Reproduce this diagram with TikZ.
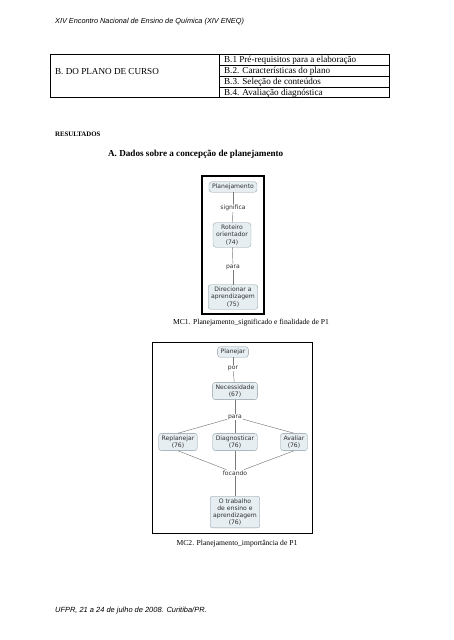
\documentclass[tikz,border=0pt]{standalone}
\usepackage{fontspec}
\setmainfont{Liberation Serif}
\newfontfamily\arialfont{Liberation Sans}
\newfontfamily\cmapfont{DejaVu Sans}
\usetikzlibrary{positioning}
\definecolor{cfill}{HTML}{E6EEF2}
\definecolor{cdraw}{HTML}{8A98A2}
\definecolor{ctext}{HTML}{303030}
\definecolor{clink}{HTML}{7A7A7A}
\tikzstyle{cnode} = [rectangle, rounded corners=3.5pt, draw=cdraw, fill=cfill, text=ctext, align=center, inner xsep=4pt, inner ysep=3pt, font=\cmapfont\fontsize{8}{9.5}\selectfont]
\tikzstyle{clabel} = [inner sep=1.2pt, text=ctext, font=\cmapfont\fontsize{8}{9.5}\selectfont]
\tikzstyle{line} = [draw=clink, line width=0.6pt]
\tikzstyle{cell} = [anchor=base west, inner sep=0pt, font=\fontsize{12}{14}\selectfont]
\tikzstyle{caption} = [inner sep=0pt, font=\fontsize{10}{12}\selectfont]

\begin{document}
\begin{tikzpicture}[x=1.314pt, y=-1.314pt]
			\useasboundingbox [fill=white] (0, 0) rectangle (453, 640);

			% page header and footer
			\node [anchor=mid west, inner sep=0pt, font=\arialfont\itshape\fontsize{9.6}{11}\selectfont] (head) at (55, 22) {XIV Encontro Nacional de Ensino de Química (XIV ENEQ)};
			\node [anchor=mid west, inner sep=0pt, font=\arialfont\itshape\fontsize{9.8}{11}\selectfont] (foot) at (55, 611) {UFPR, 21 a 24 de julho de 2008. Curitiba/PR.};

			% table
			\draw [line width=0.9pt] (50, 54) rectangle (389, 97);
			\draw [line width=0.9pt] (219, 54) -- (219, 97);
			\draw [line width=0.9pt] (219, 65) -- (389, 65);
			\draw [line width=0.9pt] (219, 76) -- (389, 76);
			\draw [line width=0.9pt] (219, 87) -- (389, 87);
			\node [cell] (plano) at (55, 74) {B. DO PLANO DE CURSO};
			\node [cell] (b1) at (224, 62.6) {B.1 Pré-requisitos para a elaboração};
			\node [cell] (b2) at (224, 73.6) {B.2. Características do plano};
			\node [cell] (b3) at (224, 84.6) {B.3. Seleção de conteúdos};
			\node [cell] (b4) at (224, 95.2) {B.4. Avaliação diagnóstica};

			\node [anchor=mid west, inner sep=0pt, font=\bfseries\fontsize{9}{11}\selectfont] (res) at (55, 135) {RESULTADOS};
			\node [anchor=mid west, inner sep=0pt, font=\bfseries\fontsize{12}{14}\selectfont] (secA) at (108, 155) {A. Dados sobre a concepção de planejamento};

			% MC1
			\draw [line width=2.4pt] (202, 176) rectangle (264, 314);
			\node [cnode] (planej) at (233, 187) {Planejamento};
			\node [clabel] (signif) at (233, 208) {significa};
			\node [cnode] (roteiro) at (232, 235) {Roteiro\\orientador\\(74)};
			\node [clabel] (para1) at (233, 267) {para};
			\node [cnode] (direc) at (233, 297) {Direcionar a\\aprendizagem\\(75)};
			\path [line] (planej) -- (signif);
			\path [line] (signif) -- (roteiro);
			\path [line] (roteiro) -- (para1);
			\path [line] (para1) -- (direc);
			\node [caption] (cap1) at (251, 323) {MC1. Planejamento\_significado e finalidade de P1};

			% MC2
			\draw [line width=0.9pt] (152, 342) rectangle (312, 533);
			\node [cnode] (planejar) at (233, 352) {Planejar};
			\node [clabel] (por) at (233, 368) {por};
			\node [cnode] (necess) at (235, 391) {Necessidade\\(67)};
			\node [clabel] (para2) at (235, 417) {para};
			\node [cnode] (replan) at (178, 442) {Replanejar\\(76)};
			\node [cnode] (diagn) at (235, 442) {Diagnosticar\\(76)};
			\node [cnode] (avaliar) at (294, 442) {Avaliar\\(76)};
			\node [clabel] (focando) at (235, 473) {focando};
			\node [cnode] (trab) at (235, 512) {O trabalho\\de ensino e\\aprendizagem\\(76)};
			\path [line] (planejar) -- (por);
			\path [line] (por) -- (necess);
			\path [line] (necess) -- (para2);
			\path [line] (para2) -- (replan.north);
			\path [line] (para2) -- (diagn);
			\path [line] (para2) -- (avaliar.north);
			\path [line] (replan.south) -- (focando);
			\path [line] (diagn) -- (focando);
			\path [line] (avaliar.south) -- (focando);
			\path [line] (focando) -- (trab);
			\node [caption] (cap2) at (237, 544) {MC2. Planejamento\_importância de P1};
		\end{tikzpicture}
\end{document}
